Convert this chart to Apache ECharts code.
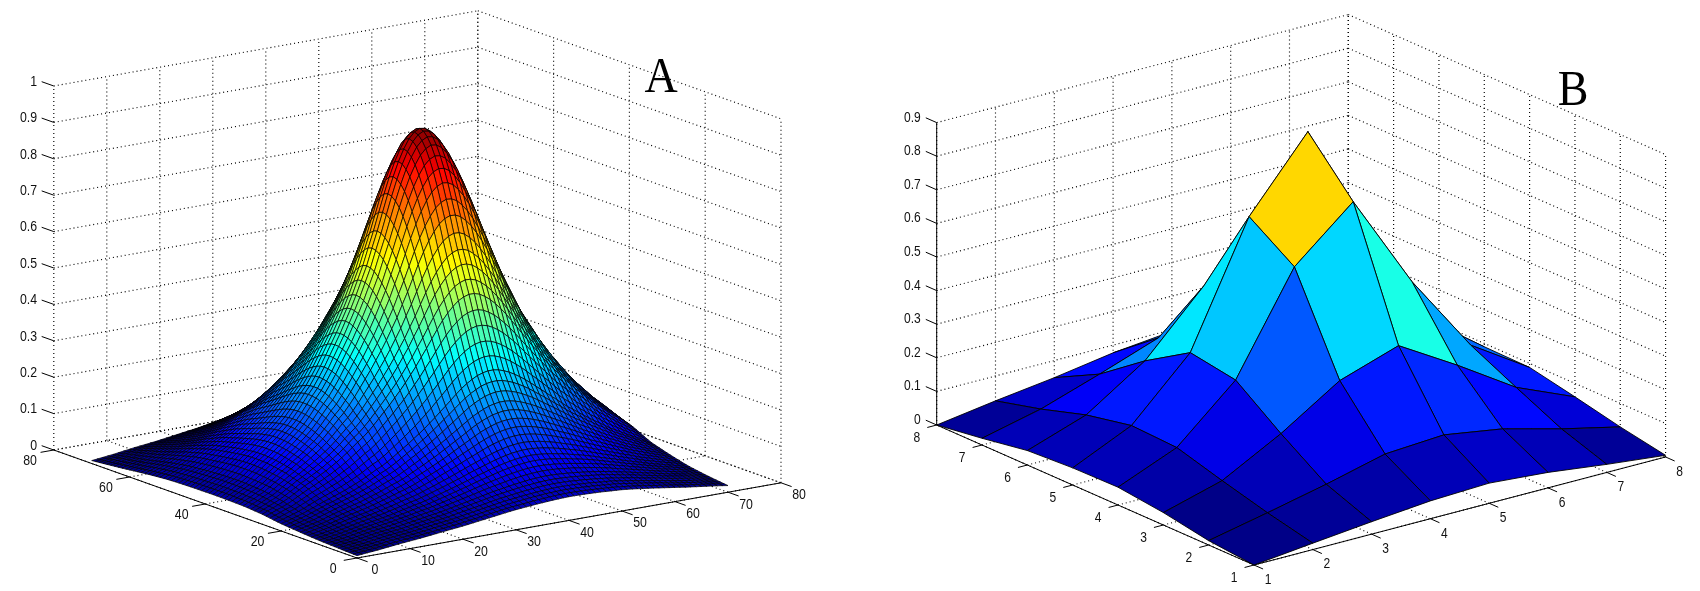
<!DOCTYPE html>
<html><head><meta charset="utf-8">
<style>html,body{margin:0;padding:0;background:#fff}#c{width:1700px;height:591px}</style>
<script src="https://cdn.jsdelivr.net/npm/echarts@6/dist/echarts.min.js"></script>
</head><body><div id="c"></div>
<script>
// Panel A: profiles (surface height = peakX*peakY + broadX*broadY)
const peakX=[.005,.008,.011,.015,.018,.023,.03,.036,.043,.05,.06,.07,.08,.09,.10,.113,.13,.15,.17,.19,.215,.24,.27,.30,.33,.365,.40,.44,.485,.53,.59,.65,.717,.783,.843,.897,.94,.973,.993,1,
.994,.978,.951,.915,.873,.823,.768,.71,.65,.59,.53,.48,.435,.39,.35,.32,.29,.26,.235,.21,.19,.17,.15,.135,.12,.105,.09,.08,.07,.06,.05];
const peakY=[0,.001,.002,.003,.005,.007,.01,.015,.02,.026,.032,.038,.046,.055,.065,.076,.088,.10,.115,.132,.15,.172,.195,.22,.245,.272,.30,.33,.36,.395,.435,.475,.515,.55,.58,.605,.624,.636,.64,
.635,.62,.596,.567,.53,.49,.447,.405,.365,.33,.297,.267,.24,.213,.188,.165,.143,.125,.108,.092,.078,.066,.055,.045,.037,.03,.024,.019,.015,.012,.009,.007];
const broadX=[.10,.12,.14,.16,.18,.205,.23,.255,.28,.30,.32,.34,.36,.385,.41,.435,.46,.485,.51,.53,.555,.585,.615,.645,.675,.705,.735,.765,.795,.825,.85,.87,.89,.91,.93,.945,.96,.975,.985,.995,1,1,.995,.99,.98,.97,.96,.945,.93,.915,.9,.875,.85,.82,.79,.76,.73,.695,.665,.63,.6,.565,.53,.5,.47,.44,.41,.38,.35,.315,.28];
const broadY=[.065,.069,.073,.077,.081,.086,.09,.095,.1,.105,.11,.117,.124,.132,.14,.148,.156,.165,.174,.182,.19,.203,.217,.232,.246,.26,.268,.276,.283,.29,.295,.296,.297,.298,.299,.3,.3,.3,.3,.3,.3,.3,.3,.3,.3,.3,.299,.298,.296,.293,.29,.283,.275,.267,.258,.25,.238,.226,.214,.202,.19,.178,.167,.156,.145,.134,.123,.112,.101,.09,.08];

// Panel B: heights read at each mesh vertex (rows: y = 1..8, columns: x = 1..8)
const surfaceB=[
[0,.019,.037,.053,.06,.046,.024,.005],
[.013,.05,.089,.133,.144,.116,.07,.03],
[.037,.086,.18,.292,.35,.246,.134,.06],
[.053,.125,.28,.571,.719,.435,.2,.088],
[.051,.131,.302,.661,.868,.5,.22,.09],
[.043,.103,.218,.395,.5,.34,.17,.075],
[.02,.061,.119,.181,.24,.2,.12,.05],
[0,.026,.049,.077,.095,.085,.06,.02]];

// Tick values and labels
const xTicksA=[0,10,20,30,40,50,60,70,80];
const yTicksA=[0,20,40,60,80];
const zTicksA=[0,.1,.2,.3,.4,.5,.6,.7,.8,.9,1];
const xTicksB=[1,2,3,4,5,6,7,8];
const yTicksB=[1,2,3,4,5,6,7,8];
const zTicksB=[0,.1,.2,.3,.4,.5,.6,.7,.8,.9];

const viewA={grid:0,o:[357,558],x0:0,y0:0,ex:[5.3,-.94],ey:[-3.79,-1.35],ez:[0,-364],
  tick:{x:2.8,y:2.5,z:3.2},zAxisSolid:false,lw:.7,
  lab:{x:[18,12.5],y:[-23.7,11],z:[-16.7,-4]},sx:.88,title:'A',titlePos:[661,79]};
const viewB={grid:1,o:[1254,565],x0:1,y0:1,ex:[58.8,-15.43],ey:[-45.33,-20],ez:[0,-336],
  tick:{x:.2,y:.16,z:.24},zAxisSolid:true,lw:.9,
  lab:{x:[14,15],y:[-19.8,12.8],z:[-16,-4.8]},sx:.86,title:'B',titlePos:[1573,92]};

function project(v,x,y,z){
  const dx=x-v.x0,dy=y-v.y0;
  return [v.o[0]+dx*v.ex[0]+dy*v.ey[0]+z*v.ez[0], v.o[1]+dx*v.ex[1]+dy*v.ey[1]+z*v.ez[1]];
}
function jet(t){
  const q=(Math.min(63,Math.floor(t*64))+.5)/64;
  const c=a=>Math.round(255*Math.max(0,Math.min(1,a)));
  return 'rgb('+c(Math.min(4*q-1.5,4.5-4*q))+','+c(Math.min(4*q-.5,3.5-4*q))+','+c(Math.min(4*q+.5,2.5-4*q))+')';
}
function lineSeries(v,rows,style){
  return {type:'custom',xAxisIndex:v.grid,yAxisIndex:v.grid,silent:true,animation:false,progressive:0,
    encode:{x:0,y:1},data:rows,z:style.z||1,
    renderItem(p,api){
      const a=api.coord([api.value(0),api.value(1)]),b=api.coord([api.value(2),api.value(3)]);
      return {type:'line',shape:{x1:a[0],y1:a[1],x2:b[0],y2:b[1]},
        style:{stroke:'#000',lineWidth:style.w,lineDash:style.dash||null,fill:null}};
    }};
}
function seg(v,a,b){const p=project(v,a[0],a[1],a[2]),q=project(v,b[0],b[1],b[2]);return [p[0],p[1],q[0],q[1]];}

function buildPanel(v,Z,xT,yT,zT,fmt){
  const x0=xT[0],x1=xT[xT.length-1],y0=yT[0],y1=yT[yT.length-1],z1=zT[zT.length-1];
  const dotted=[],solid=[],texts=[];
  xT.forEach(t=>{dotted.push(seg(v,[t,y0,0],[t,y1,0]));dotted.push(seg(v,[t,y1,0],[t,y1,z1]));});
  yT.forEach(t=>{dotted.push(seg(v,[x0,t,0],[x1,t,0]));dotted.push(seg(v,[x1,t,0],[x1,t,z1]));});
  zT.forEach(t=>{dotted.push(seg(v,[x0,y1,t],[x1,y1,t]));dotted.push(seg(v,[x1,y1,t],[x1,y0,t]));});
  solid.push(seg(v,[x0,y0,0],[x1,y0,0]));
  solid.push(seg(v,[x0,y0,0],[x0,y1,0]));
  if(v.zAxisSolid) solid.push(seg(v,[x0,y1,0],[x0,y1,z1]));
  xT.forEach(t=>{solid.push(seg(v,[t,y0,0],[t,y0-v.tick.x,0]));
    const p=project(v,t,y0,0);texts.push([p[0]+v.lab.x[0],p[1]+v.lab.x[1],String(t),'center']);});
  yT.forEach(t=>{solid.push(seg(v,[x0,t,0],[x0-v.tick.y,t,0]));
    const p=project(v,x0,t,0);texts.push([p[0]+v.lab.y[0],p[1]+v.lab.y[1],String(t),'center']);});
  zT.forEach(t=>{solid.push(seg(v,[x0,y1,t],[x0,y1+v.tick.z,t]));
    const p=project(v,x0,y1,t);texts.push([p[0]+v.lab.z[0],p[1]+v.lab.z[1],fmt(t),'right']);});

  // Surface: far cells first so nearer cells paint over them
  const ny=Z.length,nx=Z[0].length,cells=[];
  let zmax=0;Z.forEach(r=>r.forEach(a=>{if(a>zmax)zmax=a;}));
  for(let j=ny-2;j>=0;j--)for(let i=nx-2;i>=0;i--){
    const c=[[i,j],[i+1,j],[i+1,j+1],[i,j+1]].map(k=>project(v,k[0]+v.x0,k[1]+v.y0,Z[k[1]][k[0]]));
    cells.push([c[0][0],c[0][1],c[1][0],c[1][1],c[2][0],c[2][1],c[3][0],c[3][1],Z[j][i]/zmax]);
  }
  const surface={type:'custom',xAxisIndex:v.grid,yAxisIndex:v.grid,silent:true,animation:false,progressive:0,
    encode:{x:0,y:1},data:cells,z:3,
    renderItem(p,api){
      const pts=[0,2,4,6].map(k=>api.coord([api.value(k),api.value(k+1)]));
      return {type:'polygon',shape:{points:pts},style:{fill:jet(api.value(8)),stroke:'#000',lineWidth:v.lw}};
    }};
  const labels={type:'custom',xAxisIndex:v.grid,yAxisIndex:v.grid,silent:true,animation:false,
    encode:{x:0,y:1},data:texts,z:4,
    renderItem(p,api){
      const a=api.coord([api.value(0),api.value(1)]);
      return {type:'text',x:a[0],y:a[1],scaleX:v.sx,
        style:{text:texts[p.dataIndex][2],textAlign:texts[p.dataIndex][3],textVerticalAlign:'middle',
          fontFamily:'Liberation Sans',fontSize:14,fill:'#111'}};
    }};
  const title={type:'custom',xAxisIndex:v.grid,yAxisIndex:v.grid,silent:true,animation:false,
    encode:{x:0,y:1},data:[v.titlePos],z:5,
    renderItem(p,api){
      const a=api.coord([api.value(0),api.value(1)]);
      return {type:'text',x:a[0],y:a[1],scaleX:.92,
        style:{text:v.title,textAlign:'center',textVerticalAlign:'middle',
          fontFamily:'Liberation Serif',fontSize:50,fill:'#000'}};
    }};
  return [lineSeries(v,dotted,{w:1.15,dash:[1,3],z:1}),lineSeries(v,solid,{w:1,z:2}),surface,labels,title];
}

const surfaceA=peakY.map((py,j)=>peakX.map((px,i)=>px*py+broadX[i]*broadY[j]));
const fmtZ=t=>String(t);
const series=[...buildPanel(viewA,surfaceA,xTicksA,yTicksA,zTicksA,fmtZ),
              ...buildPanel(viewB,surfaceB,xTicksB,yTicksB,zTicksB,fmtZ)];
const hidden=(extra)=>Object.assign({type:'value',show:false,scale:true},extra);
const chart=echarts.init(document.getElementById('c'),null,{renderer:'canvas'});
chart.setOption({
  backgroundColor:'#fff',animation:false,
  grid:[{left:0,top:0,width:850,height:591},{left:850,top:0,width:850,height:591}],
  xAxis:[hidden({gridIndex:0,min:0,max:850}),hidden({gridIndex:1,min:850,max:1700})],
  yAxis:[hidden({gridIndex:0,min:0,max:591,inverse:true}),hidden({gridIndex:1,min:0,max:591,inverse:true})],
  series
});
</script></body></html>
